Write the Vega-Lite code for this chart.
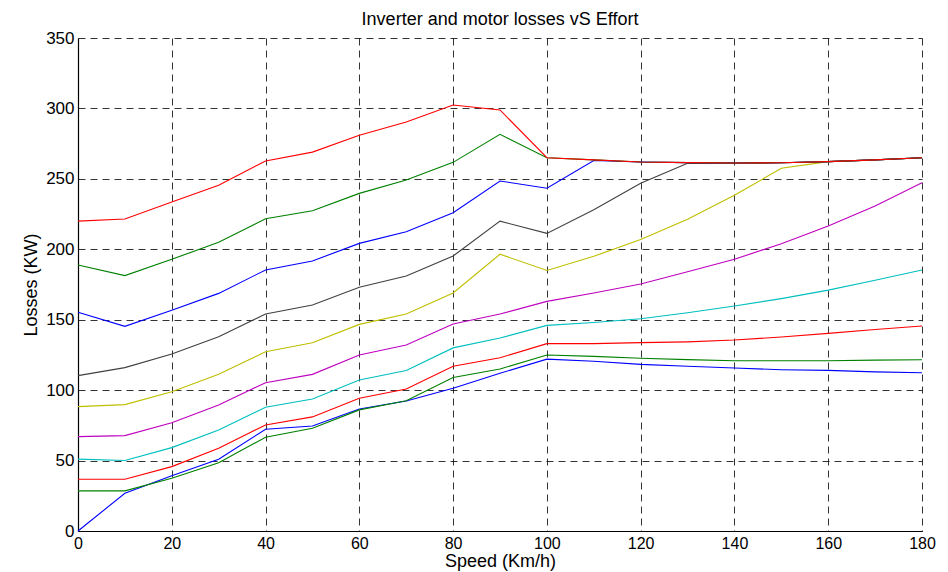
{
  "$schema": "https://vega.github.io/schema/vega-lite/v6.json",
  "width": 844,
  "height": 493,
  "autosize": "none",
  "padding": {"left": 78, "top": 38, "right": 26, "bottom": 41},
  "background": "white",
  "title": {"text": "Inverter and motor losses vS Effort", "font": "Liberation Sans", "fontSize": 18, "fontWeight": "normal", "color": "#000", "offset": 0},
  "data": {"values": [
    {"s":1,"x":0,"y":0},{"s":1,"x":10,"y":26.8},{"s":1,"x":20,"y":39.3},{"s":1,"x":30,"y":50.9},{"s":1,"x":40,"y":72.2},{"s":1,"x":50,"y":74.5},{"s":1,"x":60,"y":86.6},{"s":1,"x":70,"y":92.3},{"s":1,"x":80,"y":101.3},{"s":1,"x":90,"y":112},{"s":1,"x":100,"y":122},{"s":1,"x":110,"y":120.5},{"s":1,"x":120,"y":118.3},{"s":1,"x":130,"y":117},{"s":1,"x":140,"y":115.7},{"s":1,"x":150,"y":114.5},{"s":1,"x":160,"y":114},{"s":1,"x":170,"y":113},{"s":1,"x":180,"y":112.4},
    {"s":2,"x":0,"y":28.5},{"s":2,"x":10,"y":28.5},{"s":2,"x":20,"y":37.4},{"s":2,"x":30,"y":48.5},{"s":2,"x":40,"y":66.5},{"s":2,"x":50,"y":73},{"s":2,"x":60,"y":86},{"s":2,"x":70,"y":92.5},{"s":2,"x":80,"y":109},{"s":2,"x":90,"y":115},{"s":2,"x":100,"y":125},{"s":2,"x":110,"y":124},{"s":2,"x":120,"y":122.6},{"s":2,"x":130,"y":121.7},{"s":2,"x":140,"y":120.9},{"s":2,"x":150,"y":120.9},{"s":2,"x":160,"y":120.9},{"s":2,"x":170,"y":121.3},{"s":2,"x":180,"y":121.6},
    {"s":3,"x":0,"y":36.7},{"s":3,"x":10,"y":36.7},{"s":3,"x":20,"y":45.7},{"s":3,"x":30,"y":58.7},{"s":3,"x":40,"y":75.3},{"s":3,"x":50,"y":81},{"s":3,"x":60,"y":94.2},{"s":3,"x":70,"y":100.8},{"s":3,"x":80,"y":117},{"s":3,"x":90,"y":123},{"s":3,"x":100,"y":133},{"s":3,"x":110,"y":133},{"s":3,"x":120,"y":133.7},{"s":3,"x":130,"y":134.3},{"s":3,"x":140,"y":135.6},{"s":3,"x":150,"y":137.7},{"s":3,"x":160,"y":140.3},{"s":3,"x":170,"y":143},{"s":3,"x":180,"y":145.5},
    {"s":4,"x":0,"y":51},{"s":4,"x":10,"y":50},{"s":4,"x":20,"y":59.2},{"s":4,"x":30,"y":71.7},{"s":4,"x":40,"y":87.8},{"s":4,"x":50,"y":93.7},{"s":4,"x":60,"y":107.2},{"s":4,"x":70,"y":114},{"s":4,"x":80,"y":130},{"s":4,"x":90,"y":137},{"s":4,"x":100,"y":146},{"s":4,"x":110,"y":148},{"s":4,"x":120,"y":150.7},{"s":4,"x":130,"y":155},{"s":4,"x":140,"y":159.7},{"s":4,"x":150,"y":165},{"s":4,"x":160,"y":171},{"s":4,"x":170,"y":178},{"s":4,"x":180,"y":185.3},
    {"s":5,"x":0,"y":67},{"s":5,"x":10,"y":67.7},{"s":5,"x":20,"y":76.9},{"s":5,"x":30,"y":89.5},{"s":5,"x":40,"y":105.3},{"s":5,"x":50,"y":111.2},{"s":5,"x":60,"y":125},{"s":5,"x":70,"y":132},{"s":5,"x":80,"y":147},{"s":5,"x":90,"y":154},{"s":5,"x":100,"y":163},{"s":5,"x":110,"y":169},{"s":5,"x":120,"y":175.3},{"s":5,"x":130,"y":184},{"s":5,"x":140,"y":192.9},{"s":5,"x":150,"y":204},{"s":5,"x":160,"y":216.5},{"s":5,"x":170,"y":230.7},{"s":5,"x":180,"y":247.3},
    {"s":6,"x":0,"y":88.3},{"s":6,"x":10,"y":89.7},{"s":6,"x":20,"y":98.9},{"s":6,"x":30,"y":111.2},{"s":6,"x":40,"y":127.3},{"s":6,"x":50,"y":133.7},{"s":6,"x":60,"y":146.7},{"s":6,"x":70,"y":154},{"s":6,"x":80,"y":169},{"s":6,"x":90,"y":196.5},{"s":6,"x":100,"y":185},{"s":6,"x":110,"y":195},{"s":6,"x":120,"y":207},{"s":6,"x":130,"y":221.3},{"s":6,"x":140,"y":238.3},{"s":6,"x":150,"y":257.5},{"s":6,"x":160,"y":262.2},{"s":6,"x":170,"y":263.5},{"s":6,"x":180,"y":265},
    {"s":7,"x":0,"y":110.3},{"s":7,"x":10,"y":116},{"s":7,"x":20,"y":125.7},{"s":7,"x":30,"y":137.9},{"s":7,"x":40,"y":154},{"s":7,"x":50,"y":160.4},{"s":7,"x":60,"y":173},{"s":7,"x":70,"y":181},{"s":7,"x":80,"y":195.2},{"s":7,"x":90,"y":220},{"s":7,"x":100,"y":211.3},{"s":7,"x":110,"y":228},{"s":7,"x":120,"y":246.8},{"s":7,"x":130,"y":261},{"s":7,"x":140,"y":261.2},{"s":7,"x":150,"y":261.4},{"s":7,"x":160,"y":262.2},{"s":7,"x":170,"y":263.5},{"s":7,"x":180,"y":265},
    {"s":8,"x":0,"y":155.3},{"s":8,"x":10,"y":145.3},{"s":8,"x":20,"y":156.7},{"s":8,"x":30,"y":168.7},{"s":8,"x":40,"y":185.3},{"s":8,"x":50,"y":191.7},{"s":8,"x":60,"y":204.2},{"s":8,"x":70,"y":212.5},{"s":8,"x":80,"y":226},{"s":8,"x":90,"y":248.5},{"s":8,"x":100,"y":243.3},{"s":8,"x":110,"y":263},{"s":8,"x":120,"y":262},{"s":8,"x":130,"y":261.5},{"s":8,"x":140,"y":261.3},{"s":8,"x":150,"y":261.4},{"s":8,"x":160,"y":262.2},{"s":8,"x":170,"y":263.5},{"s":8,"x":180,"y":265},
    {"s":9,"x":0,"y":188.8},{"s":9,"x":10,"y":181.3},{"s":9,"x":20,"y":192.9},{"s":9,"x":30,"y":205},{"s":9,"x":40,"y":221.7},{"s":9,"x":50,"y":227.4},{"s":9,"x":60,"y":239.7},{"s":9,"x":70,"y":249.2},{"s":9,"x":80,"y":261.7},{"s":9,"x":90,"y":281.6},{"s":9,"x":100,"y":265},{"s":9,"x":110,"y":263.5},{"s":9,"x":120,"y":262},{"s":9,"x":130,"y":261.5},{"s":9,"x":140,"y":261.3},{"s":9,"x":150,"y":261.4},{"s":9,"x":160,"y":262.2},{"s":9,"x":170,"y":263.5},{"s":9,"x":180,"y":265},
    {"s":10,"x":0,"y":220},{"s":10,"x":10,"y":221.5},{"s":10,"x":20,"y":233.5},{"s":10,"x":30,"y":245.5},{"s":10,"x":40,"y":262.7},{"s":10,"x":50,"y":269},{"s":10,"x":60,"y":280.9},{"s":10,"x":70,"y":290.4},{"s":10,"x":80,"y":302.4},{"s":10,"x":90,"y":298.9},{"s":10,"x":100,"y":265},{"s":10,"x":110,"y":263.5},{"s":10,"x":120,"y":262},{"s":10,"x":130,"y":261.5},{"s":10,"x":140,"y":261.3},{"s":10,"x":150,"y":261.4},{"s":10,"x":160,"y":262.2},{"s":10,"x":170,"y":263.5},{"s":10,"x":180,"y":265}
  ]},
  "mark": {"type": "line", "strokeWidth": 1.1},
  "encoding": {
    "x": {
      "field": "x", "type": "quantitative",
      "scale": {"domain": [0, 180], "nice": false, "zero": false},
      "axis": {
        "title": "Speed (Km/h)", "values": [0, 20, 40, 60, 80, 100, 120, 140, 160, 180],
        "grid": true, "gridColor": "#000", "gridDash": [7, 5], "gridWidth": 0.8, "gridOpacity": 1,
        "domainColor": "#000", "domainWidth": 1.2, "ticks": false,
        "labelFont": "Liberation Sans", "labelFontSize": 16, "labelColor": "#000", "labelPadding": 4,
        "labelFlush": false, "labelOverlap": false,
        "titleFont": "Liberation Sans", "titleFontSize": 18, "titleFontWeight": "normal", "titleColor": "#000", "titlePadding": 1
      }
    },
    "y": {
      "field": "y", "type": "quantitative",
      "scale": {"domain": [0, 350], "nice": false},
      "axis": {
        "title": "Losses (KW)", "values": [0, 50, 100, 150, 200, 250, 300, 350],
        "grid": true, "gridColor": "#000", "gridDash": [7, 5], "gridWidth": 0.8, "gridOpacity": 1,
        "domainColor": "#000", "domainWidth": 1.2, "ticks": false,
        "labelFont": "Liberation Sans", "labelFontSize": 17, "labelColor": "#000", "labelPadding": 4,
        "labelFlush": false, "labelOverlap": false,
        "titleFont": "Liberation Sans", "titleFontSize": 18, "titleFontWeight": "normal", "titleColor": "#000", "titlePadding": 5
      }
    },
    "color": {
      "field": "s", "type": "nominal", "legend": null,
      "scale": {"domain": [1, 2, 3, 4, 5, 6, 7, 8, 9, 10], "range": ["#0000FF", "#008000", "#FF0000", "#00BFBF", "#BF00BF", "#BFBF00", "#404040", "#0000FF", "#008000", "#FF0000"]}
    }
  },
  "config": {"view": {"stroke": null}}
}
